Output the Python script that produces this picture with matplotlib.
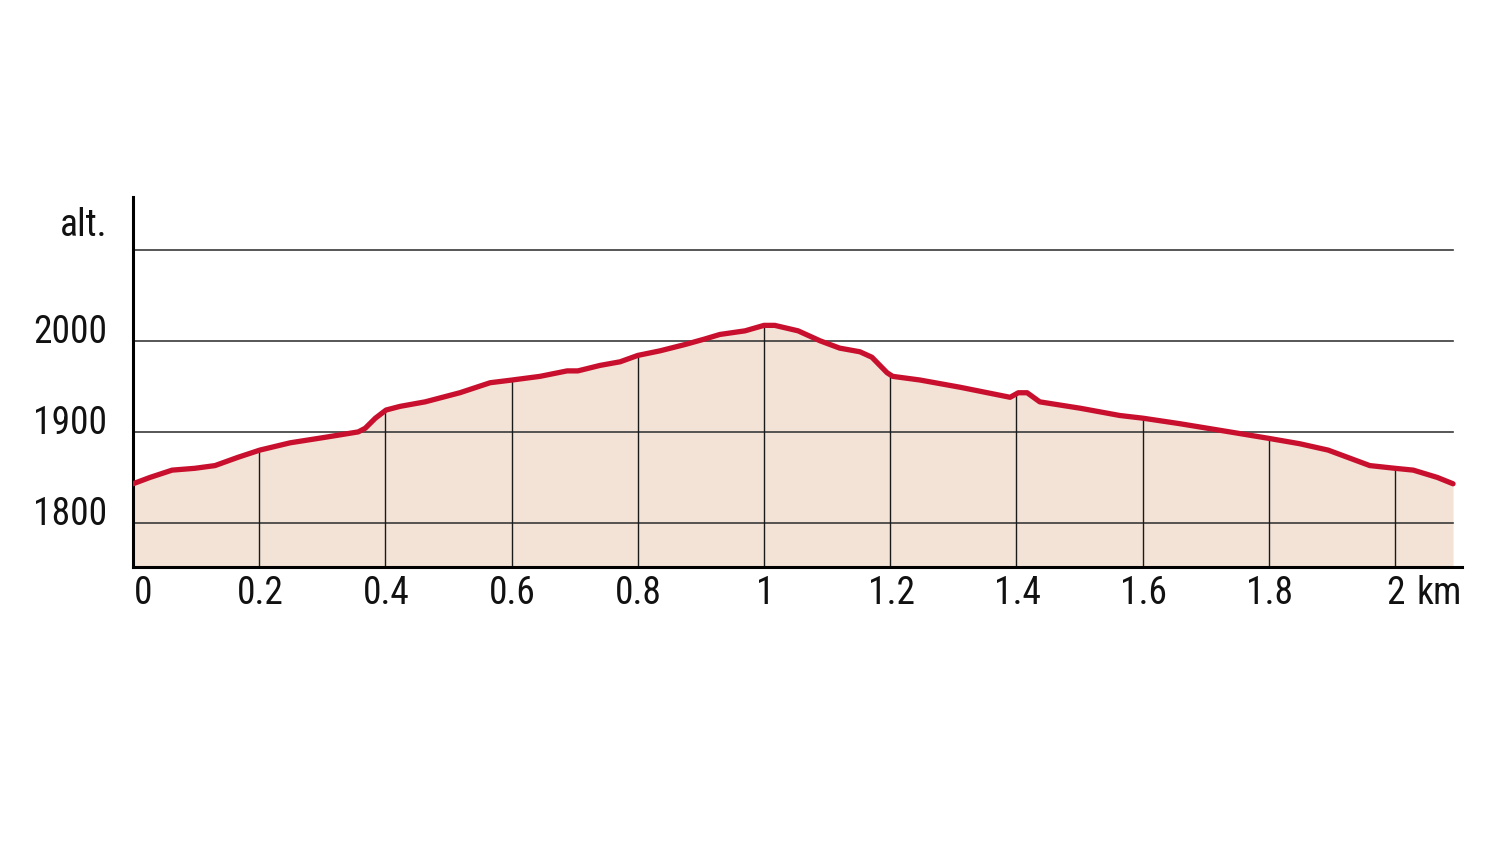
import matplotlib
matplotlib.use("Agg")
import matplotlib.pyplot as plt
from matplotlib import font_manager
import numpy as np

# ---- data ----
dist_km = [0.0, 0.027, 0.062, 0.098, 0.130, 0.166, 0.201, 0.249, 0.304, 0.357,
           0.368, 0.384, 0.401, 0.423, 0.463, 0.518, 0.566, 0.601, 0.645, 0.688,
           0.705, 0.740, 0.772, 0.800, 0.835, 0.875, 0.906, 0.930, 0.970, 1.000,
           1.017, 1.054, 1.089, 1.120, 1.152, 1.171, 1.195, 1.204, 1.247, 1.311,
           1.390, 1.403, 1.417, 1.437, 1.501, 1.564, 1.601, 1.659, 1.738, 1.799,
           1.849, 1.894, 1.929, 1.960, 2.000, 2.029, 2.067, 2.092]
altitude = [1843, 1850, 1858, 1860, 1863, 1872, 1880, 1888, 1894, 1900,
            1904, 1915, 1924, 1928, 1933, 1943, 1954, 1957, 1961, 1967,
            1967, 1973, 1977, 1984, 1989, 1996, 2002, 2007, 2011, 2017,
            2017, 2011, 2000, 1992, 1988, 1982, 1965, 1961, 1957, 1949,
            1938, 1943, 1943, 1933, 1926, 1918, 1915, 1909, 1900, 1893,
            1887, 1880, 1871, 1863, 1860, 1858, 1850, 1843]
x_ticks = [0, 0.2, 0.4, 0.6, 0.8, 1.0, 1.2, 1.4, 1.6, 1.8, 2.0]
x_tick_labels = ["0", "0.2", "0.4", "0.6", "0.8", "1", "1.2", "1.4", "1.6", "1.8", "2"]
y_grid = [1800, 1900, 2000, 2100]
y_tick_labels = ["1800", "1900", "2000"]

names = {f.name for f in font_manager.fontManager.ttflist}
fam = [n for n in ["Liberation Sans Narrow", "Roboto Condensed", "DejaVu Sans Condensed"] if n in names] + ["DejaVu Sans"]
plt.rcParams["font.family"] = fam

fig = plt.figure(figsize=(15, 8.44), dpi=100)
ax = fig.add_axes([133/1500, 1 - 567/844, (1462-133)/1500, (567-197)/844])

xmax = (1462 - 133) / 631.0
ax.set_xlim(0, xmax)
ax.set_ylim(1751.6, 2158)

ax.fill_between(dist_km, altitude, 1751.6, color="#F3E3D6", lw=0, zorder=1)

xend = dist_km[-1]
for yv in y_grid:
    ax.plot([0, xend], [yv, yv], color="#3a3a3a", lw=1.2, zorder=2)

for xv in x_ticks[1:]:
    top = np.interp(xv, dist_km, altitude)
    ax.plot([xv, xv], [1751.6, top], color="#1a1a1a", lw=1.0, zorder=2)

ax.plot(dist_km, altitude, color="#C8102E", lw=3.8, solid_capstyle="round",
        solid_joinstyle="round", zorder=3)

for s in ["top", "right"]:
    ax.spines[s].set_visible(False)
ax.spines["left"].set_linewidth(2.2)
ax.spines["bottom"].set_linewidth(2.2)
ax.set_xticks([])
ax.set_yticks([])

fs = 27
for xv, lab in zip(x_ticks, x_tick_labels):
    ha = "left" if lab == "0" else "center"
    ax.annotate(lab, (xv, 1751.6), xytext=(1, -8), textcoords="offset pixels",
                ha=ha, va="top", fontsize=fs, color="#111")
ax.annotate("km", (xmax, 1751.6), xytext=(0, -8), textcoords="offset pixels",
            ha="right", va="top", fontsize=fs, color="#111")

for yv, lab in zip(y_grid[:3], y_tick_labels):
    ax.annotate(lab, (0, yv), xytext=(-26, 8), textcoords="offset pixels",
                ha="right", va="center", fontsize=fs, color="#111")
ax.annotate("alt.", (0, 2100), xytext=(-26, 24), textcoords="offset pixels",
            ha="right", va="center", fontsize=fs, color="#111")

fig.savefig("out.png", dpi=100)
